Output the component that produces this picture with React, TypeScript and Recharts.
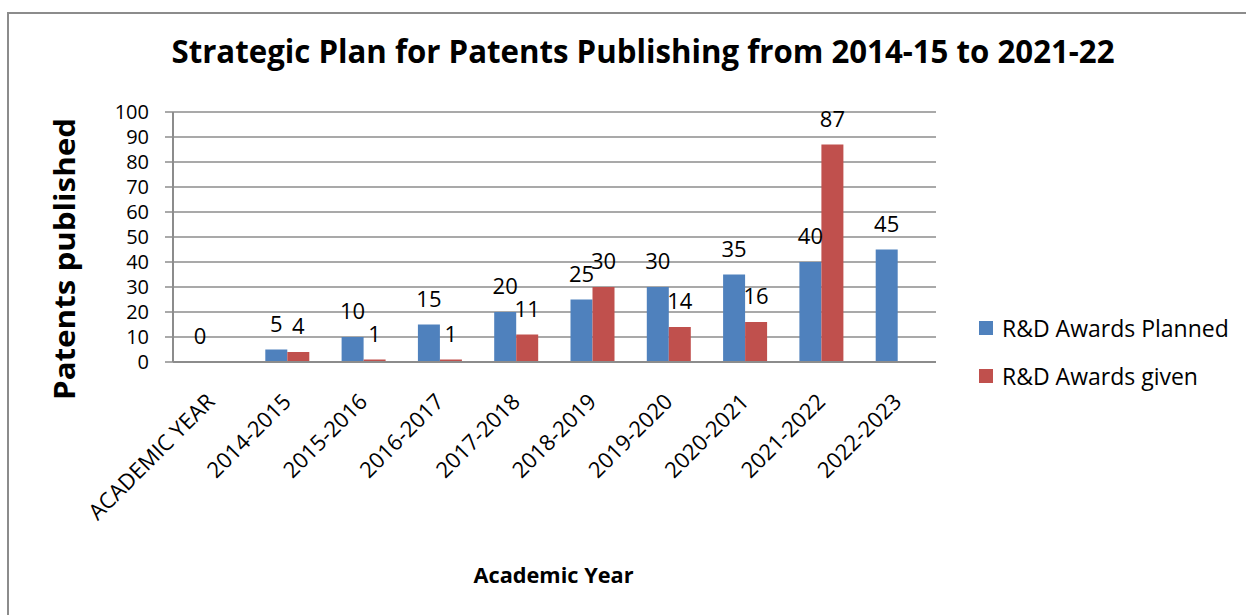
import React from "react";
import {
  BarChart,
  Bar,
  XAxis,
  YAxis,
  CartesianGrid,
  Legend,
  LabelList,
} from "recharts";

const years = [
  "ACADEMIC YEAR",
  "2014-2015",
  "2015-2016",
  "2016-2017",
  "2017-2018",
  "2018-2019",
  "2019-2020",
  "2020-2021",
  "2021-2022",
  "2022-2023",
];
const planned = [0, 5, 10, 15, 20, 25, 30, 35, 40, 45];
const given = [null, 4, 1, 1, 11, 30, 14, 16, 87, null];
const yTicks = [0, 10, 20, 30, 40, 50, 60, 70, 80, 90, 100];

const data = years.map((year, i) => ({
  year,
  planned: planned[i],
  given: given[i],
}));

const FONT = "'Open Sans', 'Noto Sans', sans-serif";
const BLUE = "#4F81BD";
const RED = "#C0504D";
const GRID = "#8c8c8c";

const YearTick = (props: any) => {
  const { x, y, payload } = props;
  const bx = x + 5;
  const by = y + 41;
  return (
    <text
      x={bx}
      y={by}
      transform={`rotate(-45, ${bx}, ${by})`}
      textAnchor="end"
      fontSize={22}
      fontFamily={FONT}
      fill="#000"
    >
      {payload.value}
    </text>
  );
};

const YTitle = (props: any) => {
  const vb = props.viewBox;
  const x = vb.x + 75;
  const y = vb.y + vb.height / 2 + 22;
  return (
    <text
      x={x}
      y={y}
      transform={`rotate(-90, ${x}, ${y})`}
      textAnchor="middle"
      fontSize={29}
      fontWeight="bold"
      fontFamily={FONT}
      textLength={282}
      lengthAdjust="spacingAndGlyphs"
      fill="#000"
    >
      Patents published
    </text>
  );
};

const XTitle = (props: any) => {
  const vb = props.viewBox;
  return (
    <text
      x={vb.x + vb.width / 2 - 1}
      y={vb.y + 221}
      textAnchor="middle"
      fontSize={22}
      fontWeight="bold"
      fontFamily={FONT}
      textLength={160}
      lengthAdjust="spacingAndGlyphs"
      fill="#000"
    >
      Academic Year
    </text>
  );
};

const LegendBox = (props: any) => {
  const items = props.payload || [];
  return (
    <div style={{ fontFamily: FONT, fontSize: 23, color: "#000" }}>
      {items.map((it: any) => (
        <div
          key={it.value}
          style={{ display: "flex", alignItems: "center", height: 48 }}
        >
          <span
            style={{
              display: "inline-block",
              width: 14,
              height: 14,
              background: it.color,
              marginRight: 9,
            }}
          />
          <span>{it.value}</span>
        </div>
      ))}
    </div>
  );
};

export default function App() {
  return (
    <div
      style={{
        position: "absolute",
        left: 0,
        top: 0,
        width: 1246,
        height: 615,
        overflow: "hidden",
        background: "#fff",
      }}
    >
      <div
        style={{
          position: "absolute",
          left: 7,
          top: 12,
          width: 1300,
          height: 700,
          border: `2px solid ${GRID}`,
        }}
      />
      <svg
        width={1246}
        height={100}
        style={{ position: "absolute", left: 0, top: 0 }}
      >
        <text
          x={643}
          y={63}
          textAnchor="middle"
          fontSize={32}
          fontWeight="bold"
          fontFamily={FONT}
          textLength={943}
          lengthAdjust="spacingAndGlyphs"
          fill="#000"
        >
          Strategic Plan for Patents Publishing from 2014-15 to 2021-22
        </text>
      </svg>
      <div style={{ position: "absolute", left: 0, top: 0 }}>
        <BarChart
          width={1246}
          height={615}
          data={data}
          margin={{ top: 112, right: 310, bottom: 0, left: 0 }}
          barGap={0}
          barSize={22}
        >
          <CartesianGrid vertical={false} stroke={GRID} strokeWidth={1.5} />
          <XAxis
            dataKey="year"
            interval={0}
            height={253}
            tickLine={false}
            tickSize={0}
            tickMargin={0}
            axisLine={{ stroke: GRID, strokeWidth: 2 }}
            tick={<YearTick />}
            label={{ content: <XTitle /> }}
          />
          <YAxis
            domain={[0, 100]}
            ticks={yTicks}
            interval={0}
            width={173}
            tickSize={8}
            tickMargin={16}
            tickLine={{ stroke: GRID, strokeWidth: 1.5 }}
            axisLine={{ stroke: GRID, strokeWidth: 2 }}
            tick={{ fill: "#000", fontSize: 20, fontFamily: FONT }}
            label={{ content: <YTitle /> }}
          />
          <Legend
            layout="vertical"
            align="center"
            verticalAlign="middle"
            wrapperStyle={{ left: 979, top: 304, width: 267 }}
            content={<LegendBox />}
          />
          <Bar
            dataKey="planned"
            name="R&D Awards Planned"
            fill={BLUE}
            minPointSize={(v: any) => (v === 0 ? 0.01 : 0)}
            isAnimationActive={false}
          >
            <LabelList
              dataKey="planned"
              position="top"
              offset={18}
              fill="#000"
              fontSize={22}
              fontFamily={FONT}
            />
          </Bar>
          <Bar
            dataKey="given"
            name="R&D Awards given"
            fill={RED}
            isAnimationActive={false}
          >
            <LabelList
              dataKey="given"
              position="top"
              offset={18}
              fill="#000"
              fontSize={22}
              fontFamily={FONT}
            />
          </Bar>
        </BarChart>
      </div>
    </div>
  );
}
